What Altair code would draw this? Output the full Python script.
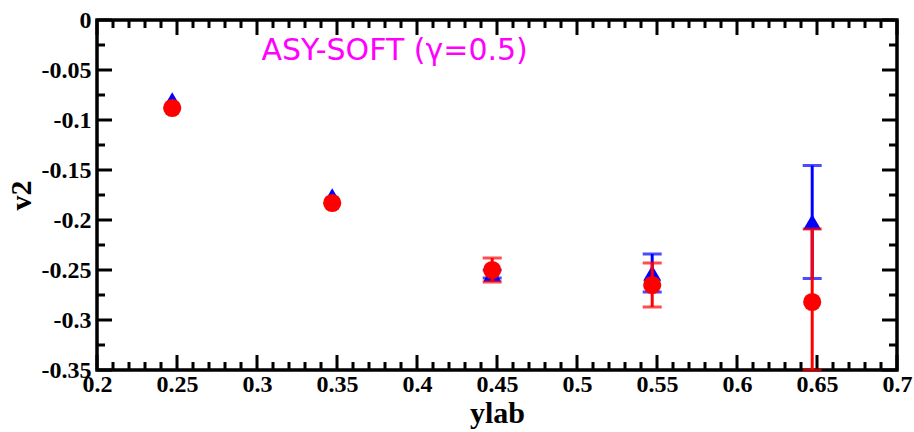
import altair as alt
import pandas as pd

# Rapidity bins (x) and elliptic flow v2 for the two series
ylab = [0.247, 0.347, 0.447, 0.547, 0.647]
v2_tri = [-0.080, -0.176, -0.254, -0.253, -0.202]
err_tri = [0.0, 0.0, 0.004, 0.019, 0.0565]
v2_circ = [-0.088, -0.183, -0.250, -0.265, -0.282]
err_circ = [0.0, 0.0, 0.012, 0.022, 0.073]

x_major = [0.2, 0.25, 0.3, 0.35, 0.4, 0.45, 0.5, 0.55, 0.6, 0.65, 0.7]
x_minor = [round(0.2 + 0.01 * i, 2) for i in range(51) if i % 5 != 0]
y_major = [0.0, -0.05, -0.1, -0.15, -0.2, -0.25, -0.3, -0.35]
y_minor = [-0.025, -0.075, -0.125, -0.175, -0.225, -0.275, -0.325]

label_text = "ASY-SOFT (\u03b3=0.5)"

W, H = 800, 350
BLUE = "#0000ff"
RED = "#ff0000"
SERIF = "Liberation Serif"

tri = pd.DataFrame({"x": ylab, "y": v2_tri, "e": err_tri})
tri["lo"] = tri["y"] - tri["e"]
tri["hi"] = tri["y"] + tri["e"]
circ = pd.DataFrame({"x": ylab, "y": v2_circ, "e": err_circ})
circ["lo"] = circ["y"] - circ["e"]
circ["hi"] = circ["y"] + circ["e"]

fmt = "replace(format(datum.value, '.2~f'), '\u2212', '-')"

xs = alt.Scale(domain=[0.2, 0.7], nice=False, zero=False, clamp=True)
ys = alt.Scale(domain=[-0.35, 0.0], nice=False, zero=False, clamp=True)

axis_style = dict(
    domain=False, ticks=False, grid=False,
    labelFont=SERIF, labelFontWeight="bold", labelFontSize=24, labelColor="black",
    labelOverlap=False, labelFlush=False, labelBound=False,
    titleFont=SERIF, titleFontWeight="bold", titleFontSize=30, titleColor="black",
)
x_axis = alt.Axis(values=x_major, labelExpr=fmt, labelPadding=2, titlePadding=2, **axis_style)
y_axis = alt.Axis(values=y_major, labelExpr=fmt, labelPadding=6, titlePadding=5, **axis_style)


def X(field):
    return alt.X(field, scale=xs, axis=x_axis, title="ylab")


def Y(field):
    return alt.Y(field, scale=ys, axis=y_axis, title="v2")


# Inward tick marks on all four sides of the frame
xmaj = pd.DataFrame({"t": x_major})
xmin = pd.DataFrame({"t": x_minor})
ymaj = pd.DataFrame({"t": y_major})
ymin = pd.DataFrame({"t": y_minor})

tick_style = dict(color="black", strokeWidth=3)

ticks = [
    alt.Chart(xmaj).mark_rule(**tick_style).encode(x=X("t:Q"), y=alt.value(H), y2=alt.value(H - 15)),
    alt.Chart(xmaj).mark_rule(**tick_style).encode(x=X("t:Q"), y=alt.value(0), y2=alt.value(15)),
    alt.Chart(xmin).mark_rule(**tick_style).encode(x=X("t:Q"), y=alt.value(H), y2=alt.value(H - 8)),
    alt.Chart(xmin).mark_rule(**tick_style).encode(x=X("t:Q"), y=alt.value(0), y2=alt.value(8)),
    alt.Chart(ymaj).mark_rule(**tick_style).encode(y=Y("t:Q"), x=alt.value(0), x2=alt.value(15)),
    alt.Chart(ymaj).mark_rule(**tick_style).encode(y=Y("t:Q"), x=alt.value(W), x2=alt.value(W - 15)),
    alt.Chart(ymin).mark_rule(**tick_style).encode(y=Y("t:Q"), x=alt.value(0), x2=alt.value(8)),
    alt.Chart(ymin).mark_rule(**tick_style).encode(y=Y("t:Q"), x=alt.value(W), x2=alt.value(W - 8)),
]


def series(df, color, shape, size):
    base = alt.Chart(df)
    with_err = base.transform_filter("datum.e > 0")
    bar = with_err.mark_rule(color=color, strokeWidth=3).encode(
        x=X("x:Q"), y=Y("lo:Q"), y2="hi:Q")
    cap_lo = with_err.mark_tick(color=color, orient="horizontal", size=19, thickness=3).encode(
        x=X("x:Q"), y=Y("lo:Q"))
    cap_hi = with_err.mark_tick(color=color, orient="horizontal", size=19, thickness=3).encode(
        x=X("x:Q"), y=Y("hi:Q"))
    pts = base.mark_point(shape=shape, filled=True, color=color, size=size, opacity=1).encode(
        x=X("x:Q"), y=Y("y:Q"))
    return [bar, cap_lo, cap_hi, pts]


annot = alt.Chart(pd.DataFrame({"s": [label_text]})).mark_text(
    font="DejaVu Sans", fontSize=30, color="#ff00ff", align="center", baseline="middle"
).encode(x=alt.datum(0.386), y=alt.datum(-0.031), text="s:N")

layers = ticks + series(tri, BLUE, "triangle-up", 330) + series(circ, RED, "circle", 330) + [annot]

chart = alt.layer(*layers).properties(
    width=W, height=H,
    autosize=alt.AutoSizeParams(type="none"),
    padding={"left": 97, "top": 20, "right": 17, "bottom": 62},
    background="white",
).configure_view(
    stroke="black", strokeWidth=3.5
).configure_axis(**axis_style)

chart.save("out.html", embed_options={"renderer": "svg", "actions": False})
